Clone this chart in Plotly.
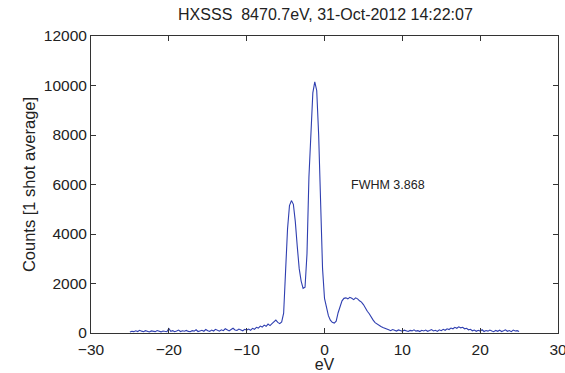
import numpy as np
import plotly.graph_objects as go

# Spectrometer trace: counts per energy bin (eV offset from 8470.7 eV)
ev_start = -25.0
ev_step = 0.25

counts_low = [
    40, 70, 55, 90, 60, 110, 75, 50, 95, 65,
    40, 85, 70, 55, 100, 60, 45, 80, 65, 50,
    180, 70, 95, 55, 85, 120, 60, 90, 70, 105,
    65, 50, 95, 75, 130, 60, 85, 110, 70, 140,
    90, 65, 120, 80, 150, 100, 75, 130, 95, 170,
    110, 85, 140, 190, 120, 100, 160, 130, 90, 150,
]
counts_peaks = [
    120, 160, 110, 190, 150, 230, 200, 280, 240, 320,
    270, 360, 300, 380, 450, 520, 430, 380, 450,
    800, 2500, 4200, 5150, 5350, 5200, 4500, 3500, 2600, 2100,
    1800, 1850, 3200, 6300, 8300, 9700, 10150, 9800, 8000, 5100,
    2600, 1400,
    1000, 700, 520, 430, 400, 480, 820, 1100, 1300, 1400,
    1420, 1380, 1440, 1400, 1350, 1420, 1380, 1300, 1250, 1150,
    1000, 880, 780, 620, 520, 420, 360, 300, 260, 220,
    180, 150,
]
counts_high = [
    130, 95, 140, 110, 80, 125, 100, 70, 115, 90,
    60, 105, 85, 130, 75, 95, 60, 110, 80, 120,
    70, 100, 140, 85, 110, 65, 130, 95, 150, 110,
    170, 140, 200, 170, 230, 190, 250, 210, 230, 170,
    190, 130, 150, 90, 120, 70, 110, 80, 130, 60,
    100, 75, 120, 85, 55, 105, 70, 115, 60, 90,
    130, 70, 100, 55, 120, 80, 95, 60,
]

counts = counts_low + counts_peaks + counts_high
ev = [round(ev_start + i * ev_step, 2) for i in range(len(counts))]

title_text = "HXSSS  8470.7eV, 31-Oct-2012 14:22:07"
fwhm_label = "FWHM 3.868"
fwhm_pos = (3.2, 6000)

font_family = "Liberation Sans, Arial, sans-serif"
ink = "#222222"

fig = go.Figure()
fig.add_trace(go.Scatter(
    x=ev, y=counts, mode="lines",
    line=dict(color="#2f3fb0", width=1.1),
    showlegend=False,
))

axis_common = dict(
    showgrid=False, zeroline=False, automargin=False,
    showline=True, linecolor="#333333", linewidth=1, mirror="ticks",
    ticks="inside", ticklen=5, tickcolor="#333333", tickwidth=1,
    tickfont=dict(family=font_family, size=15.5, color=ink),
    ticklabeloverflow="allow",
)

fig.update_layout(
    width=565, height=373,
    margin=dict(l=91, r=7, t=36, b=40),
    paper_bgcolor="white", plot_bgcolor="white",
    font=dict(family=font_family, size=15, color=ink),
    title=dict(text=title_text, x=0.576, xanchor="center", y=0.962, yanchor="middle",
               font=dict(family=font_family, size=16, color=ink)),
    xaxis=dict(range=[-30, 30], dtick=10, tick0=0, ticklabelstandoff=2,
               title=dict(text="eV", standoff=2,
                          font=dict(family=font_family, size=16, color=ink)),
               **axis_common),
    yaxis=dict(range=[0, 12000], dtick=2000, tick0=0, tickformat="d",
               title=dict(text="Counts [1 shot average]", standoff=4,
                          font=dict(family=font_family, size=16.5, color=ink)),
               **axis_common),
    annotations=[dict(
        x=fwhm_pos[0], y=fwhm_pos[1], xref="x", yref="y",
        text=fwhm_label, showarrow=False, xanchor="left", yanchor="middle",
        font=dict(family=font_family, size=12.5, color=ink),
    )],
)

fig.write_html("out.html")
